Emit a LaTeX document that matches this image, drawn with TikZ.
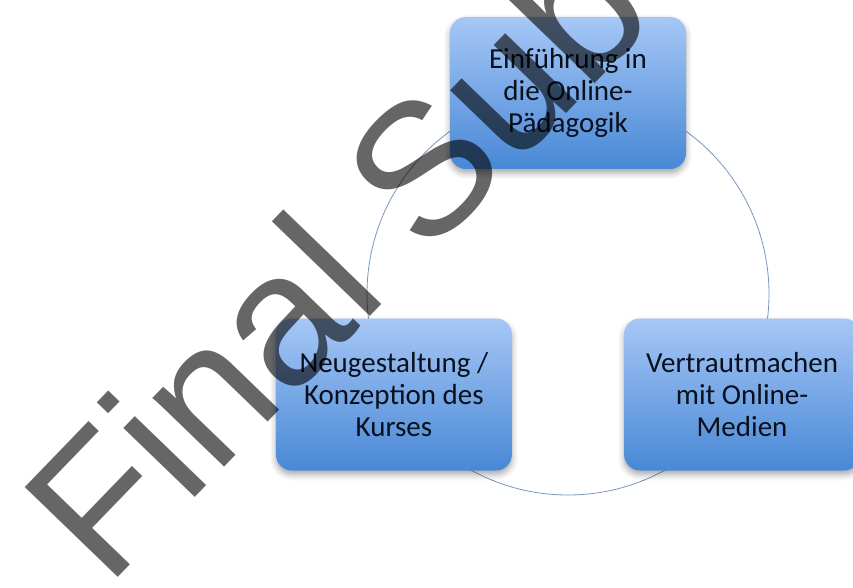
\documentclass[tikz,border=0pt]{standalone}
\usepackage{fontspec}
\setmainfont{Carlito}
\newfontfamily\markfont{Liberation Sans}
\usepackage{xcolor}
\usepackage{tikz}
\usetikzlibrary{shadows.blur}
\definecolor{boxtop}{RGB}{166,199,246}
\definecolor{boxbottom}{RGB}{72,136,214}
\definecolor{ringblue}{RGB}{118,150,192}
\definecolor{boxtext}{RGB}{10,16,28}

\begin{document}
\begin{tikzpicture}[x=1pt,y=1pt,
  stage/.style={rectangle, rounded corners=16pt, minimum width=236pt, minimum height=152pt,
    top color=boxtop, bottom color=boxbottom, text=boxtext, align=center,
    font=\fontsize{29}{32}\selectfont,
    blur shadow={shadow xshift=0pt, shadow yshift=-4pt, shadow blur radius=6pt, shadow opacity=35}},
  stampword/.style={anchor=base west, inner sep=0pt, rotate=46, text=black, text opacity=0.6,
    font=\markfont\fontsize{188}{188}\selectfont}]
\useasboundingbox (0,0) rectangle (853,587);
\coordinate (cyc) at (568,293);
\draw[ringblue, line width=0.8pt] (cyc) circle[radius=201pt];
\node[stage] (intro) at ([shift={(90:201pt)}]cyc) {Einführung in\\die Online-\\Pädagogik};
\node[stage] (media) at ([shift={(-30:201pt)}]cyc) {Vertrautmachen\\mit Online-\\Medien};
\node[stage] (redesign) at ([shift={(210:201pt)}]cyc) {Neugestaltung /\\Konzeption des\\Kurses};
% watermark
\clip (0,0) rectangle (853,587);
\node[stampword] (stamp) at (107,-2) {Final Sub};
\end{tikzpicture}
\end{document}
